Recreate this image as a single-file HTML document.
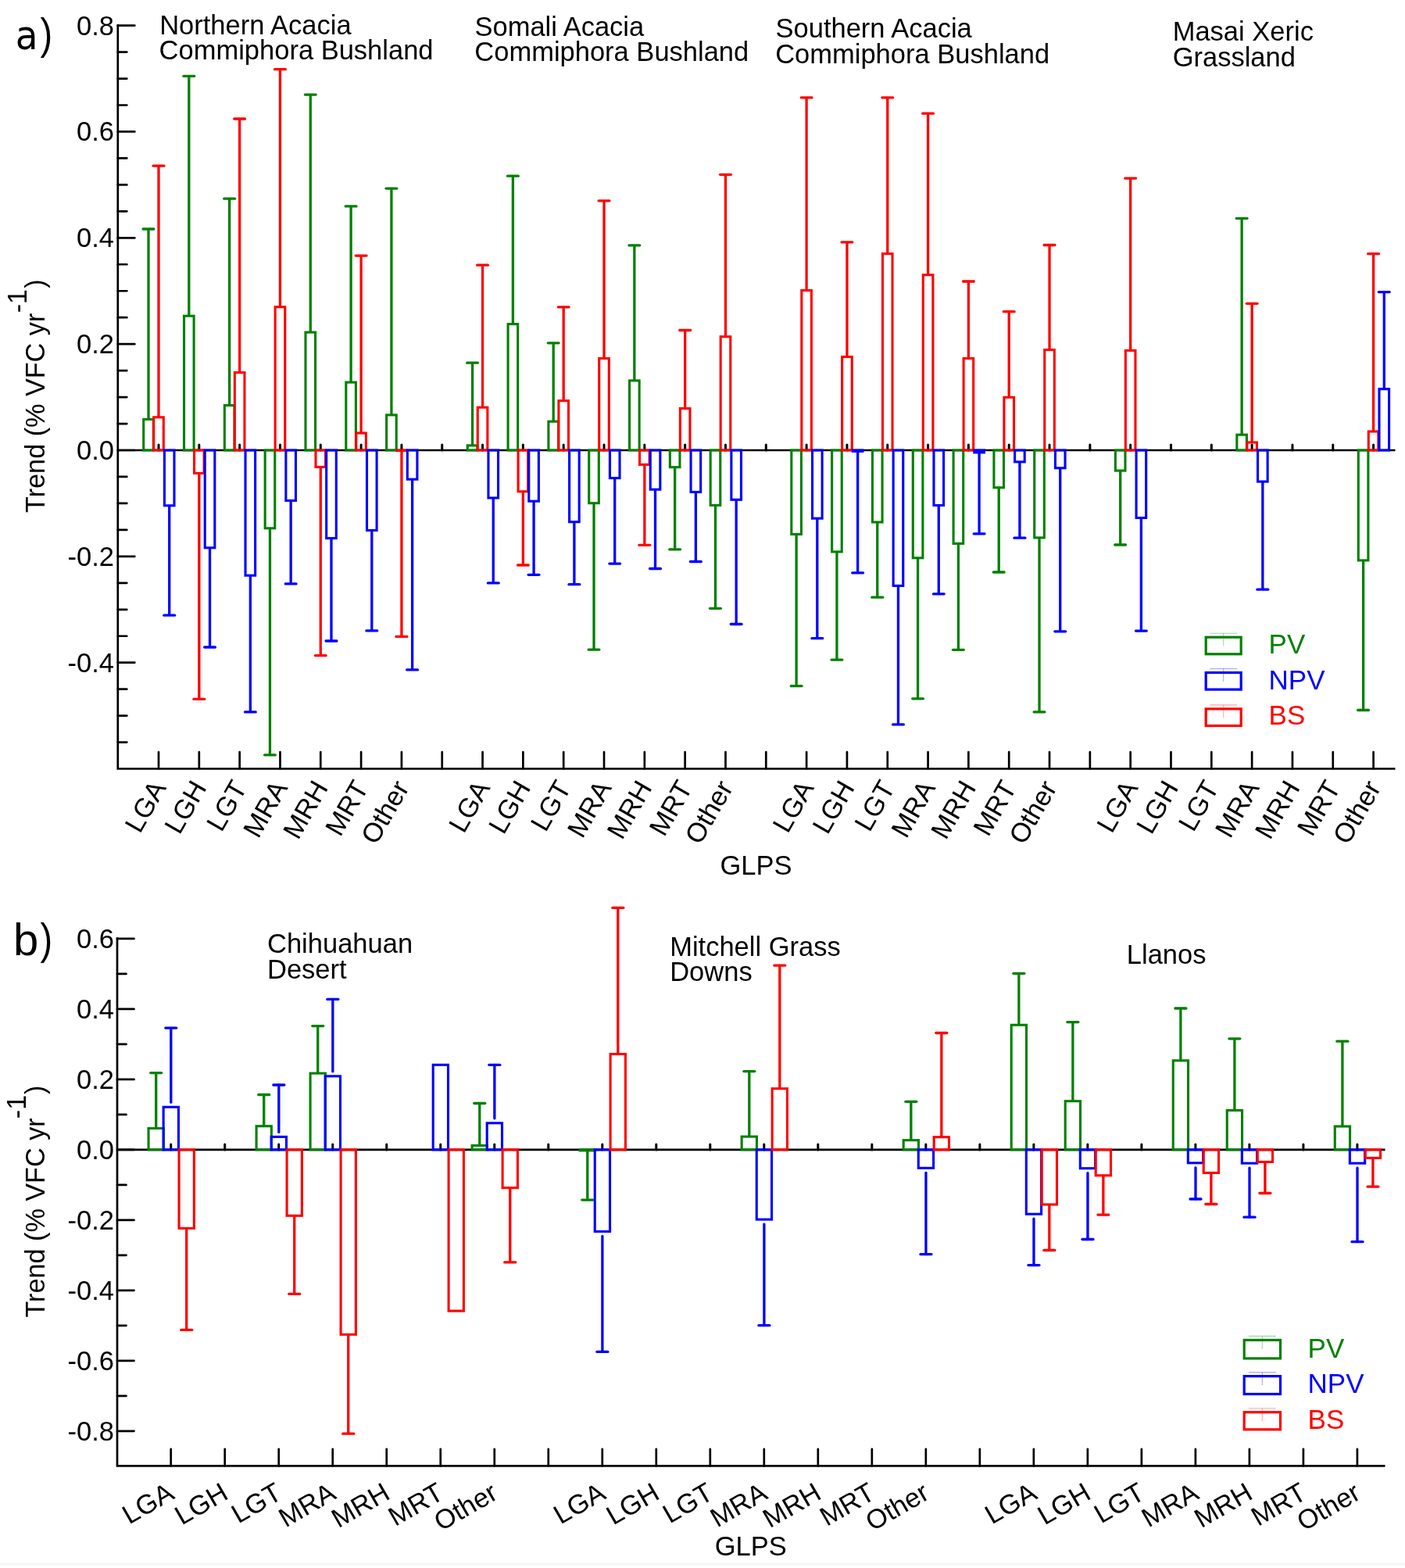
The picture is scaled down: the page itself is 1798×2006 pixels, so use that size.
<!DOCTYPE html><html><head><meta charset="utf-8"><title>Trend chart</title>
<style>html,body{margin:0;padding:0;background:#fff;overflow:hidden;}svg{display:block;}text{font-family:'Liberation Sans', Arial, sans-serif;}</style></head><body>
<svg width="1798" height="2006" viewBox="0 0 1798 2006">
<rect x="0" y="0" width="1798" height="2006" fill="#fff"/>
<path d="M150.8 31.3 V983.5 H1785.5" fill="none" stroke="#000" stroke-width="2.7"/>
<line x1="150.8" y1="32.6" x2="172.3" y2="32.6" stroke="#000" stroke-width="2.7" stroke-linecap="round"/>
<text x="146" y="44.5" font-size="34.5" text-anchor="end" fill="#000">0.8</text>
<line x1="150.8" y1="66.56" x2="162.3" y2="66.56" stroke="#000" stroke-width="2.7" stroke-linecap="round"/>
<line x1="150.8" y1="100.53" x2="162.3" y2="100.53" stroke="#000" stroke-width="2.7" stroke-linecap="round"/>
<line x1="150.8" y1="134.49" x2="162.3" y2="134.49" stroke="#000" stroke-width="2.7" stroke-linecap="round"/>
<line x1="150.8" y1="168.45" x2="172.3" y2="168.45" stroke="#000" stroke-width="2.7" stroke-linecap="round"/>
<text x="146" y="180.35" font-size="34.5" text-anchor="end" fill="#000">0.6</text>
<line x1="150.8" y1="202.41" x2="162.3" y2="202.41" stroke="#000" stroke-width="2.7" stroke-linecap="round"/>
<line x1="150.8" y1="236.38" x2="162.3" y2="236.38" stroke="#000" stroke-width="2.7" stroke-linecap="round"/>
<line x1="150.8" y1="270.34" x2="162.3" y2="270.34" stroke="#000" stroke-width="2.7" stroke-linecap="round"/>
<line x1="150.8" y1="304.3" x2="172.3" y2="304.3" stroke="#000" stroke-width="2.7" stroke-linecap="round"/>
<text x="146" y="316.2" font-size="34.5" text-anchor="end" fill="#000">0.4</text>
<line x1="150.8" y1="338.26" x2="162.3" y2="338.26" stroke="#000" stroke-width="2.7" stroke-linecap="round"/>
<line x1="150.8" y1="372.23" x2="162.3" y2="372.23" stroke="#000" stroke-width="2.7" stroke-linecap="round"/>
<line x1="150.8" y1="406.19" x2="162.3" y2="406.19" stroke="#000" stroke-width="2.7" stroke-linecap="round"/>
<line x1="150.8" y1="440.15" x2="172.3" y2="440.15" stroke="#000" stroke-width="2.7" stroke-linecap="round"/>
<text x="146" y="452.05" font-size="34.5" text-anchor="end" fill="#000">0.2</text>
<line x1="150.8" y1="474.11" x2="162.3" y2="474.11" stroke="#000" stroke-width="2.7" stroke-linecap="round"/>
<line x1="150.8" y1="508.08" x2="162.3" y2="508.08" stroke="#000" stroke-width="2.7" stroke-linecap="round"/>
<line x1="150.8" y1="542.04" x2="162.3" y2="542.04" stroke="#000" stroke-width="2.7" stroke-linecap="round"/>
<line x1="150.8" y1="576" x2="172.3" y2="576" stroke="#000" stroke-width="2.7" stroke-linecap="round"/>
<text x="146" y="587.9" font-size="34.5" text-anchor="end" fill="#000">0.0</text>
<line x1="150.8" y1="609.96" x2="162.3" y2="609.96" stroke="#000" stroke-width="2.7" stroke-linecap="round"/>
<line x1="150.8" y1="643.93" x2="162.3" y2="643.93" stroke="#000" stroke-width="2.7" stroke-linecap="round"/>
<line x1="150.8" y1="677.89" x2="162.3" y2="677.89" stroke="#000" stroke-width="2.7" stroke-linecap="round"/>
<line x1="150.8" y1="711.85" x2="172.3" y2="711.85" stroke="#000" stroke-width="2.7" stroke-linecap="round"/>
<text x="146" y="723.75" font-size="34.5" text-anchor="end" fill="#000">-0.2</text>
<line x1="150.8" y1="745.81" x2="162.3" y2="745.81" stroke="#000" stroke-width="2.7" stroke-linecap="round"/>
<line x1="150.8" y1="779.78" x2="162.3" y2="779.78" stroke="#000" stroke-width="2.7" stroke-linecap="round"/>
<line x1="150.8" y1="813.74" x2="162.3" y2="813.74" stroke="#000" stroke-width="2.7" stroke-linecap="round"/>
<line x1="150.8" y1="847.7" x2="172.3" y2="847.7" stroke="#000" stroke-width="2.7" stroke-linecap="round"/>
<text x="146" y="859.6" font-size="34.5" text-anchor="end" fill="#000">-0.4</text>
<line x1="150.8" y1="881.66" x2="162.3" y2="881.66" stroke="#000" stroke-width="2.7" stroke-linecap="round"/>
<line x1="150.8" y1="915.62" x2="162.3" y2="915.62" stroke="#000" stroke-width="2.7" stroke-linecap="round"/>
<line x1="150.8" y1="949.59" x2="162.3" y2="949.59" stroke="#000" stroke-width="2.7" stroke-linecap="round"/>
<line x1="203" y1="983.5" x2="203" y2="962" stroke="#000" stroke-width="2.7" stroke-linecap="round"/>
<line x1="254.82" y1="983.5" x2="254.82" y2="962" stroke="#000" stroke-width="2.7" stroke-linecap="round"/>
<line x1="306.64" y1="983.5" x2="306.64" y2="962" stroke="#000" stroke-width="2.7" stroke-linecap="round"/>
<line x1="358.46" y1="983.5" x2="358.46" y2="962" stroke="#000" stroke-width="2.7" stroke-linecap="round"/>
<line x1="410.28" y1="983.5" x2="410.28" y2="962" stroke="#000" stroke-width="2.7" stroke-linecap="round"/>
<line x1="462.1" y1="983.5" x2="462.1" y2="962" stroke="#000" stroke-width="2.7" stroke-linecap="round"/>
<line x1="513.92" y1="983.5" x2="513.92" y2="962" stroke="#000" stroke-width="2.7" stroke-linecap="round"/>
<line x1="565.74" y1="983.5" x2="565.74" y2="962" stroke="#000" stroke-width="2.7" stroke-linecap="round"/>
<line x1="617.56" y1="983.5" x2="617.56" y2="962" stroke="#000" stroke-width="2.7" stroke-linecap="round"/>
<line x1="669.38" y1="983.5" x2="669.38" y2="962" stroke="#000" stroke-width="2.7" stroke-linecap="round"/>
<line x1="721.2" y1="983.5" x2="721.2" y2="962" stroke="#000" stroke-width="2.7" stroke-linecap="round"/>
<line x1="773.02" y1="983.5" x2="773.02" y2="962" stroke="#000" stroke-width="2.7" stroke-linecap="round"/>
<line x1="824.84" y1="983.5" x2="824.84" y2="962" stroke="#000" stroke-width="2.7" stroke-linecap="round"/>
<line x1="876.66" y1="983.5" x2="876.66" y2="962" stroke="#000" stroke-width="2.7" stroke-linecap="round"/>
<line x1="928.48" y1="983.5" x2="928.48" y2="962" stroke="#000" stroke-width="2.7" stroke-linecap="round"/>
<line x1="980.3" y1="983.5" x2="980.3" y2="962" stroke="#000" stroke-width="2.7" stroke-linecap="round"/>
<line x1="1032.12" y1="983.5" x2="1032.12" y2="962" stroke="#000" stroke-width="2.7" stroke-linecap="round"/>
<line x1="1083.94" y1="983.5" x2="1083.94" y2="962" stroke="#000" stroke-width="2.7" stroke-linecap="round"/>
<line x1="1135.76" y1="983.5" x2="1135.76" y2="962" stroke="#000" stroke-width="2.7" stroke-linecap="round"/>
<line x1="1187.58" y1="983.5" x2="1187.58" y2="962" stroke="#000" stroke-width="2.7" stroke-linecap="round"/>
<line x1="1239.4" y1="983.5" x2="1239.4" y2="962" stroke="#000" stroke-width="2.7" stroke-linecap="round"/>
<line x1="1291.22" y1="983.5" x2="1291.22" y2="962" stroke="#000" stroke-width="2.7" stroke-linecap="round"/>
<line x1="1343.04" y1="983.5" x2="1343.04" y2="962" stroke="#000" stroke-width="2.7" stroke-linecap="round"/>
<line x1="1394.86" y1="983.5" x2="1394.86" y2="962" stroke="#000" stroke-width="2.7" stroke-linecap="round"/>
<line x1="1446.68" y1="983.5" x2="1446.68" y2="962" stroke="#000" stroke-width="2.7" stroke-linecap="round"/>
<line x1="1498.5" y1="983.5" x2="1498.5" y2="962" stroke="#000" stroke-width="2.7" stroke-linecap="round"/>
<line x1="1550.32" y1="983.5" x2="1550.32" y2="962" stroke="#000" stroke-width="2.7" stroke-linecap="round"/>
<line x1="1602.14" y1="983.5" x2="1602.14" y2="962" stroke="#000" stroke-width="2.7" stroke-linecap="round"/>
<line x1="1653.96" y1="983.5" x2="1653.96" y2="962" stroke="#000" stroke-width="2.7" stroke-linecap="round"/>
<line x1="1705.78" y1="983.5" x2="1705.78" y2="962" stroke="#000" stroke-width="2.7" stroke-linecap="round"/>
<line x1="1757.6" y1="983.5" x2="1757.6" y2="962" stroke="#000" stroke-width="2.7" stroke-linecap="round"/>
<line x1="150.8" y1="576" x2="1785.5" y2="576" stroke="#000" stroke-width="2.7"/>
<line x1="203" y1="576" x2="203" y2="569" stroke="#000" stroke-width="3" stroke-linecap="round"/>
<line x1="254.82" y1="576" x2="254.82" y2="569" stroke="#000" stroke-width="3" stroke-linecap="round"/>
<line x1="306.64" y1="576" x2="306.64" y2="569" stroke="#000" stroke-width="3" stroke-linecap="round"/>
<line x1="358.46" y1="576" x2="358.46" y2="569" stroke="#000" stroke-width="3" stroke-linecap="round"/>
<line x1="410.28" y1="576" x2="410.28" y2="569" stroke="#000" stroke-width="3" stroke-linecap="round"/>
<line x1="462.1" y1="576" x2="462.1" y2="569" stroke="#000" stroke-width="3" stroke-linecap="round"/>
<line x1="513.92" y1="576" x2="513.92" y2="569" stroke="#000" stroke-width="3" stroke-linecap="round"/>
<line x1="565.74" y1="576" x2="565.74" y2="569" stroke="#000" stroke-width="3" stroke-linecap="round"/>
<line x1="617.56" y1="576" x2="617.56" y2="569" stroke="#000" stroke-width="3" stroke-linecap="round"/>
<line x1="669.38" y1="576" x2="669.38" y2="569" stroke="#000" stroke-width="3" stroke-linecap="round"/>
<line x1="721.2" y1="576" x2="721.2" y2="569" stroke="#000" stroke-width="3" stroke-linecap="round"/>
<line x1="773.02" y1="576" x2="773.02" y2="569" stroke="#000" stroke-width="3" stroke-linecap="round"/>
<line x1="824.84" y1="576" x2="824.84" y2="569" stroke="#000" stroke-width="3" stroke-linecap="round"/>
<line x1="876.66" y1="576" x2="876.66" y2="569" stroke="#000" stroke-width="3" stroke-linecap="round"/>
<line x1="928.48" y1="576" x2="928.48" y2="569" stroke="#000" stroke-width="3" stroke-linecap="round"/>
<line x1="980.3" y1="576" x2="980.3" y2="569" stroke="#000" stroke-width="3" stroke-linecap="round"/>
<line x1="1032.12" y1="576" x2="1032.12" y2="569" stroke="#000" stroke-width="3" stroke-linecap="round"/>
<line x1="1083.94" y1="576" x2="1083.94" y2="569" stroke="#000" stroke-width="3" stroke-linecap="round"/>
<line x1="1135.76" y1="576" x2="1135.76" y2="569" stroke="#000" stroke-width="3" stroke-linecap="round"/>
<line x1="1187.58" y1="576" x2="1187.58" y2="569" stroke="#000" stroke-width="3" stroke-linecap="round"/>
<line x1="1239.4" y1="576" x2="1239.4" y2="569" stroke="#000" stroke-width="3" stroke-linecap="round"/>
<line x1="1291.22" y1="576" x2="1291.22" y2="569" stroke="#000" stroke-width="3" stroke-linecap="round"/>
<line x1="1343.04" y1="576" x2="1343.04" y2="569" stroke="#000" stroke-width="3" stroke-linecap="round"/>
<line x1="1394.86" y1="576" x2="1394.86" y2="569" stroke="#000" stroke-width="3" stroke-linecap="round"/>
<line x1="1446.68" y1="576" x2="1446.68" y2="569" stroke="#000" stroke-width="3" stroke-linecap="round"/>
<line x1="1498.5" y1="576" x2="1498.5" y2="569" stroke="#000" stroke-width="3" stroke-linecap="round"/>
<line x1="1550.32" y1="576" x2="1550.32" y2="569" stroke="#000" stroke-width="3" stroke-linecap="round"/>
<line x1="1602.14" y1="576" x2="1602.14" y2="569" stroke="#000" stroke-width="3" stroke-linecap="round"/>
<line x1="1653.96" y1="576" x2="1653.96" y2="569" stroke="#000" stroke-width="3" stroke-linecap="round"/>
<line x1="1705.78" y1="576" x2="1705.78" y2="569" stroke="#000" stroke-width="3" stroke-linecap="round"/>
<line x1="1757.6" y1="576" x2="1757.6" y2="569" stroke="#000" stroke-width="3" stroke-linecap="round"/>
<rect x="183.7" y="536.4" width="12.6" height="39.6" fill="none" stroke="#008000" stroke-width="3.1"/>
<line x1="190" y1="536.4" x2="190" y2="293" stroke="#008000" stroke-width="3.3"/>
<line x1="183.1" y1="293" x2="196.9" y2="293" stroke="#008000" stroke-width="3.3" stroke-linecap="round"/>
<rect x="196.7" y="533.8" width="12.6" height="42.2" fill="none" stroke="#ff0000" stroke-width="3.1"/>
<line x1="203" y1="533.8" x2="203" y2="212.2" stroke="#ff0000" stroke-width="3.3"/>
<line x1="196.1" y1="212.2" x2="209.9" y2="212.2" stroke="#ff0000" stroke-width="3.3" stroke-linecap="round"/>
<rect x="210.4" y="576" width="12.6" height="70.8" fill="none" stroke="#0000ff" stroke-width="3.1"/>
<line x1="216.7" y1="646.8" x2="216.7" y2="787.2" stroke="#0000ff" stroke-width="3.3"/>
<line x1="209.8" y1="787.2" x2="223.6" y2="787.2" stroke="#0000ff" stroke-width="3.3" stroke-linecap="round"/>
<rect x="235.52" y="404.2" width="12.6" height="171.8" fill="none" stroke="#008000" stroke-width="3.1"/>
<line x1="241.82" y1="404.2" x2="241.82" y2="97.3" stroke="#008000" stroke-width="3.3"/>
<line x1="234.92" y1="97.3" x2="248.72" y2="97.3" stroke="#008000" stroke-width="3.3" stroke-linecap="round"/>
<rect x="248.52" y="576" width="12.6" height="29.4" fill="none" stroke="#ff0000" stroke-width="3.1"/>
<line x1="254.82" y1="605.4" x2="254.82" y2="894.4" stroke="#ff0000" stroke-width="3.3"/>
<line x1="247.92" y1="894.4" x2="261.72" y2="894.4" stroke="#ff0000" stroke-width="3.3" stroke-linecap="round"/>
<rect x="262.22" y="576" width="12.6" height="124.8" fill="none" stroke="#0000ff" stroke-width="3.1"/>
<line x1="268.52" y1="700.8" x2="268.52" y2="828" stroke="#0000ff" stroke-width="3.3"/>
<line x1="261.62" y1="828" x2="275.42" y2="828" stroke="#0000ff" stroke-width="3.3" stroke-linecap="round"/>
<rect x="287.34" y="518.6" width="12.6" height="57.4" fill="none" stroke="#008000" stroke-width="3.1"/>
<line x1="293.64" y1="518.6" x2="293.64" y2="254.2" stroke="#008000" stroke-width="3.3"/>
<line x1="286.74" y1="254.2" x2="300.54" y2="254.2" stroke="#008000" stroke-width="3.3" stroke-linecap="round"/>
<rect x="300.34" y="476.6" width="12.6" height="99.4" fill="none" stroke="#ff0000" stroke-width="3.1"/>
<line x1="306.64" y1="476.6" x2="306.64" y2="152" stroke="#ff0000" stroke-width="3.3"/>
<line x1="299.74" y1="152" x2="313.54" y2="152" stroke="#ff0000" stroke-width="3.3" stroke-linecap="round"/>
<rect x="314.04" y="576" width="12.6" height="160.2" fill="none" stroke="#0000ff" stroke-width="3.1"/>
<line x1="320.34" y1="736.2" x2="320.34" y2="910.9" stroke="#0000ff" stroke-width="3.3"/>
<line x1="313.44" y1="910.9" x2="327.24" y2="910.9" stroke="#0000ff" stroke-width="3.3" stroke-linecap="round"/>
<rect x="339.16" y="576" width="12.6" height="99.8" fill="none" stroke="#008000" stroke-width="3.1"/>
<line x1="345.46" y1="675.8" x2="345.46" y2="965.8" stroke="#008000" stroke-width="3.3"/>
<line x1="338.56" y1="965.8" x2="352.36" y2="965.8" stroke="#008000" stroke-width="3.3" stroke-linecap="round"/>
<rect x="352.16" y="392.7" width="12.6" height="183.3" fill="none" stroke="#ff0000" stroke-width="3.1"/>
<line x1="358.46" y1="392.7" x2="358.46" y2="88.7" stroke="#ff0000" stroke-width="3.3"/>
<line x1="351.56" y1="88.7" x2="365.36" y2="88.7" stroke="#ff0000" stroke-width="3.3" stroke-linecap="round"/>
<rect x="365.86" y="576" width="12.6" height="64.4" fill="none" stroke="#0000ff" stroke-width="3.1"/>
<line x1="372.16" y1="640.4" x2="372.16" y2="746.9" stroke="#0000ff" stroke-width="3.3"/>
<line x1="365.26" y1="746.9" x2="379.06" y2="746.9" stroke="#0000ff" stroke-width="3.3" stroke-linecap="round"/>
<rect x="390.98" y="425.1" width="12.6" height="150.9" fill="none" stroke="#008000" stroke-width="3.1"/>
<line x1="397.28" y1="425.1" x2="397.28" y2="121.1" stroke="#008000" stroke-width="3.3"/>
<line x1="390.38" y1="121.1" x2="404.18" y2="121.1" stroke="#008000" stroke-width="3.3" stroke-linecap="round"/>
<rect x="403.98" y="576" width="12.6" height="21.5" fill="none" stroke="#ff0000" stroke-width="3.1"/>
<line x1="410.28" y1="597.5" x2="410.28" y2="838.7" stroke="#ff0000" stroke-width="3.3"/>
<line x1="403.38" y1="838.7" x2="417.18" y2="838.7" stroke="#ff0000" stroke-width="3.3" stroke-linecap="round"/>
<rect x="417.68" y="576" width="12.6" height="112.6" fill="none" stroke="#0000ff" stroke-width="3.1"/>
<line x1="423.98" y1="688.6" x2="423.98" y2="820" stroke="#0000ff" stroke-width="3.3"/>
<line x1="417.08" y1="820" x2="430.88" y2="820" stroke="#0000ff" stroke-width="3.3" stroke-linecap="round"/>
<rect x="442.8" y="489.1" width="12.6" height="86.9" fill="none" stroke="#008000" stroke-width="3.1"/>
<line x1="449.1" y1="489.1" x2="449.1" y2="263.9" stroke="#008000" stroke-width="3.3"/>
<line x1="442.2" y1="263.9" x2="456" y2="263.9" stroke="#008000" stroke-width="3.3" stroke-linecap="round"/>
<rect x="455.8" y="554" width="12.6" height="22" fill="none" stroke="#ff0000" stroke-width="3.1"/>
<line x1="462.1" y1="554" x2="462.1" y2="327.1" stroke="#ff0000" stroke-width="3.3"/>
<line x1="455.2" y1="327.1" x2="469" y2="327.1" stroke="#ff0000" stroke-width="3.3" stroke-linecap="round"/>
<rect x="469.5" y="576" width="12.6" height="102.5" fill="none" stroke="#0000ff" stroke-width="3.1"/>
<line x1="475.8" y1="678.5" x2="475.8" y2="806.9" stroke="#0000ff" stroke-width="3.3"/>
<line x1="468.9" y1="806.9" x2="482.7" y2="806.9" stroke="#0000ff" stroke-width="3.3" stroke-linecap="round"/>
<rect x="494.62" y="530.9" width="12.6" height="45.1" fill="none" stroke="#008000" stroke-width="3.1"/>
<line x1="500.92" y1="530.9" x2="500.92" y2="241.1" stroke="#008000" stroke-width="3.3"/>
<line x1="494.02" y1="241.1" x2="507.82" y2="241.1" stroke="#008000" stroke-width="3.3" stroke-linecap="round"/>
<rect x="507.62" y="576" width="12.6" height="0.6" fill="none" stroke="#ff0000" stroke-width="3.1"/>
<line x1="513.92" y1="576.6" x2="513.92" y2="814.4" stroke="#ff0000" stroke-width="3.3"/>
<line x1="507.02" y1="814.4" x2="520.82" y2="814.4" stroke="#ff0000" stroke-width="3.3" stroke-linecap="round"/>
<rect x="521.32" y="576" width="12.6" height="37.2" fill="none" stroke="#0000ff" stroke-width="3.1"/>
<line x1="527.62" y1="613.2" x2="527.62" y2="856.9" stroke="#0000ff" stroke-width="3.3"/>
<line x1="520.72" y1="856.9" x2="534.52" y2="856.9" stroke="#0000ff" stroke-width="3.3" stroke-linecap="round"/>
<rect x="598.26" y="569.9" width="12.6" height="6.1" fill="none" stroke="#008000" stroke-width="3.1"/>
<line x1="604.56" y1="569.9" x2="604.56" y2="464.2" stroke="#008000" stroke-width="3.3"/>
<line x1="597.66" y1="464.2" x2="611.46" y2="464.2" stroke="#008000" stroke-width="3.3" stroke-linecap="round"/>
<rect x="611.26" y="521.2" width="12.6" height="54.8" fill="none" stroke="#ff0000" stroke-width="3.1"/>
<line x1="617.56" y1="521.2" x2="617.56" y2="339.2" stroke="#ff0000" stroke-width="3.3"/>
<line x1="610.66" y1="339.2" x2="624.46" y2="339.2" stroke="#ff0000" stroke-width="3.3" stroke-linecap="round"/>
<rect x="624.96" y="576" width="12.6" height="61" fill="none" stroke="#0000ff" stroke-width="3.1"/>
<line x1="631.26" y1="637" x2="631.26" y2="745.9" stroke="#0000ff" stroke-width="3.3"/>
<line x1="624.36" y1="745.9" x2="638.16" y2="745.9" stroke="#0000ff" stroke-width="3.3" stroke-linecap="round"/>
<rect x="650.08" y="414.6" width="12.6" height="161.4" fill="none" stroke="#008000" stroke-width="3.1"/>
<line x1="656.38" y1="414.6" x2="656.38" y2="225.2" stroke="#008000" stroke-width="3.3"/>
<line x1="649.48" y1="225.2" x2="663.28" y2="225.2" stroke="#008000" stroke-width="3.3" stroke-linecap="round"/>
<rect x="663.08" y="576" width="12.6" height="52.8" fill="none" stroke="#ff0000" stroke-width="3.1"/>
<line x1="669.38" y1="628.8" x2="669.38" y2="723" stroke="#ff0000" stroke-width="3.3"/>
<line x1="662.48" y1="723" x2="676.28" y2="723" stroke="#ff0000" stroke-width="3.3" stroke-linecap="round"/>
<rect x="676.78" y="576" width="12.6" height="65.2" fill="none" stroke="#0000ff" stroke-width="3.1"/>
<line x1="683.08" y1="641.2" x2="683.08" y2="735.3" stroke="#0000ff" stroke-width="3.3"/>
<line x1="676.18" y1="735.3" x2="689.98" y2="735.3" stroke="#0000ff" stroke-width="3.3" stroke-linecap="round"/>
<rect x="701.9" y="539.2" width="12.6" height="36.8" fill="none" stroke="#008000" stroke-width="3.1"/>
<line x1="708.2" y1="539.2" x2="708.2" y2="438.8" stroke="#008000" stroke-width="3.3"/>
<line x1="701.3" y1="438.8" x2="715.1" y2="438.8" stroke="#008000" stroke-width="3.3" stroke-linecap="round"/>
<rect x="714.9" y="512.7" width="12.6" height="63.3" fill="none" stroke="#ff0000" stroke-width="3.1"/>
<line x1="721.2" y1="512.7" x2="721.2" y2="392.8" stroke="#ff0000" stroke-width="3.3"/>
<line x1="714.3" y1="392.8" x2="728.1" y2="392.8" stroke="#ff0000" stroke-width="3.3" stroke-linecap="round"/>
<rect x="728.6" y="576" width="12.6" height="91.7" fill="none" stroke="#0000ff" stroke-width="3.1"/>
<line x1="734.9" y1="667.7" x2="734.9" y2="747.7" stroke="#0000ff" stroke-width="3.3"/>
<line x1="728" y1="747.7" x2="741.8" y2="747.7" stroke="#0000ff" stroke-width="3.3" stroke-linecap="round"/>
<rect x="753.72" y="576" width="12.6" height="67.7" fill="none" stroke="#008000" stroke-width="3.1"/>
<line x1="760.02" y1="643.7" x2="760.02" y2="831.1" stroke="#008000" stroke-width="3.3"/>
<line x1="753.12" y1="831.1" x2="766.92" y2="831.1" stroke="#008000" stroke-width="3.3" stroke-linecap="round"/>
<rect x="766.72" y="458.5" width="12.6" height="117.5" fill="none" stroke="#ff0000" stroke-width="3.1"/>
<line x1="773.02" y1="458.5" x2="773.02" y2="256.8" stroke="#ff0000" stroke-width="3.3"/>
<line x1="766.12" y1="256.8" x2="779.92" y2="256.8" stroke="#ff0000" stroke-width="3.3" stroke-linecap="round"/>
<rect x="780.42" y="576" width="12.6" height="35.6" fill="none" stroke="#0000ff" stroke-width="3.1"/>
<line x1="786.72" y1="611.6" x2="786.72" y2="721.1" stroke="#0000ff" stroke-width="3.3"/>
<line x1="779.82" y1="721.1" x2="793.62" y2="721.1" stroke="#0000ff" stroke-width="3.3" stroke-linecap="round"/>
<rect x="805.54" y="486.9" width="12.6" height="89.1" fill="none" stroke="#008000" stroke-width="3.1"/>
<line x1="811.84" y1="486.9" x2="811.84" y2="313.8" stroke="#008000" stroke-width="3.3"/>
<line x1="804.94" y1="313.8" x2="818.74" y2="313.8" stroke="#008000" stroke-width="3.3" stroke-linecap="round"/>
<rect x="818.54" y="576" width="12.6" height="18.4" fill="none" stroke="#ff0000" stroke-width="3.1"/>
<line x1="824.84" y1="594.4" x2="824.84" y2="697.3" stroke="#ff0000" stroke-width="3.3"/>
<line x1="817.94" y1="697.3" x2="831.74" y2="697.3" stroke="#ff0000" stroke-width="3.3" stroke-linecap="round"/>
<rect x="832.24" y="576" width="12.6" height="50.2" fill="none" stroke="#0000ff" stroke-width="3.1"/>
<line x1="838.54" y1="626.2" x2="838.54" y2="727.5" stroke="#0000ff" stroke-width="3.3"/>
<line x1="831.64" y1="727.5" x2="845.44" y2="727.5" stroke="#0000ff" stroke-width="3.3" stroke-linecap="round"/>
<rect x="857.36" y="576" width="12.6" height="21.7" fill="none" stroke="#008000" stroke-width="3.1"/>
<line x1="863.66" y1="597.7" x2="863.66" y2="702.8" stroke="#008000" stroke-width="3.3"/>
<line x1="856.76" y1="702.8" x2="870.56" y2="702.8" stroke="#008000" stroke-width="3.3" stroke-linecap="round"/>
<rect x="870.36" y="522.6" width="12.6" height="53.4" fill="none" stroke="#ff0000" stroke-width="3.1"/>
<line x1="876.66" y1="522.6" x2="876.66" y2="422.5" stroke="#ff0000" stroke-width="3.3"/>
<line x1="869.76" y1="422.5" x2="883.56" y2="422.5" stroke="#ff0000" stroke-width="3.3" stroke-linecap="round"/>
<rect x="884.06" y="576" width="12.6" height="53.5" fill="none" stroke="#0000ff" stroke-width="3.1"/>
<line x1="890.36" y1="629.5" x2="890.36" y2="718.5" stroke="#0000ff" stroke-width="3.3"/>
<line x1="883.46" y1="718.5" x2="897.26" y2="718.5" stroke="#0000ff" stroke-width="3.3" stroke-linecap="round"/>
<rect x="909.18" y="576" width="12.6" height="70.4" fill="none" stroke="#008000" stroke-width="3.1"/>
<line x1="915.48" y1="646.4" x2="915.48" y2="778.3" stroke="#008000" stroke-width="3.3"/>
<line x1="908.58" y1="778.3" x2="922.38" y2="778.3" stroke="#008000" stroke-width="3.3" stroke-linecap="round"/>
<rect x="922.18" y="430.7" width="12.6" height="145.3" fill="none" stroke="#ff0000" stroke-width="3.1"/>
<line x1="928.48" y1="430.7" x2="928.48" y2="223.3" stroke="#ff0000" stroke-width="3.3"/>
<line x1="921.58" y1="223.3" x2="935.38" y2="223.3" stroke="#ff0000" stroke-width="3.3" stroke-linecap="round"/>
<rect x="935.88" y="576" width="12.6" height="63.3" fill="none" stroke="#0000ff" stroke-width="3.1"/>
<line x1="942.18" y1="639.3" x2="942.18" y2="798.5" stroke="#0000ff" stroke-width="3.3"/>
<line x1="935.28" y1="798.5" x2="949.08" y2="798.5" stroke="#0000ff" stroke-width="3.3" stroke-linecap="round"/>
<rect x="1012.82" y="576" width="12.6" height="107.5" fill="none" stroke="#008000" stroke-width="3.1"/>
<line x1="1019.12" y1="683.5" x2="1019.12" y2="877.7" stroke="#008000" stroke-width="3.3"/>
<line x1="1012.22" y1="877.7" x2="1026.02" y2="877.7" stroke="#008000" stroke-width="3.3" stroke-linecap="round"/>
<rect x="1025.82" y="371.5" width="12.6" height="204.5" fill="none" stroke="#ff0000" stroke-width="3.1"/>
<line x1="1032.12" y1="371.5" x2="1032.12" y2="124.8" stroke="#ff0000" stroke-width="3.3"/>
<line x1="1025.22" y1="124.8" x2="1039.02" y2="124.8" stroke="#ff0000" stroke-width="3.3" stroke-linecap="round"/>
<rect x="1039.52" y="576" width="12.6" height="87.2" fill="none" stroke="#0000ff" stroke-width="3.1"/>
<line x1="1045.82" y1="663.2" x2="1045.82" y2="816.7" stroke="#0000ff" stroke-width="3.3"/>
<line x1="1038.92" y1="816.7" x2="1052.72" y2="816.7" stroke="#0000ff" stroke-width="3.3" stroke-linecap="round"/>
<rect x="1064.64" y="576" width="12.6" height="129.9" fill="none" stroke="#008000" stroke-width="3.1"/>
<line x1="1070.94" y1="705.9" x2="1070.94" y2="844.1" stroke="#008000" stroke-width="3.3"/>
<line x1="1064.04" y1="844.1" x2="1077.84" y2="844.1" stroke="#008000" stroke-width="3.3" stroke-linecap="round"/>
<rect x="1077.64" y="456.5" width="12.6" height="119.5" fill="none" stroke="#ff0000" stroke-width="3.1"/>
<line x1="1083.94" y1="456.5" x2="1083.94" y2="309.8" stroke="#ff0000" stroke-width="3.3"/>
<line x1="1077.04" y1="309.8" x2="1090.84" y2="309.8" stroke="#ff0000" stroke-width="3.3" stroke-linecap="round"/>
<rect x="1091.34" y="576" width="12.6" height="1.4" fill="none" stroke="#0000ff" stroke-width="3.1"/>
<line x1="1097.64" y1="577.4" x2="1097.64" y2="732.9" stroke="#0000ff" stroke-width="3.3"/>
<line x1="1090.74" y1="732.9" x2="1104.54" y2="732.9" stroke="#0000ff" stroke-width="3.3" stroke-linecap="round"/>
<rect x="1116.46" y="576" width="12.6" height="92" fill="none" stroke="#008000" stroke-width="3.1"/>
<line x1="1122.76" y1="668" x2="1122.76" y2="764.2" stroke="#008000" stroke-width="3.3"/>
<line x1="1115.86" y1="764.2" x2="1129.66" y2="764.2" stroke="#008000" stroke-width="3.3" stroke-linecap="round"/>
<rect x="1129.46" y="324.6" width="12.6" height="251.4" fill="none" stroke="#ff0000" stroke-width="3.1"/>
<line x1="1135.76" y1="324.6" x2="1135.76" y2="124.8" stroke="#ff0000" stroke-width="3.3"/>
<line x1="1128.86" y1="124.8" x2="1142.66" y2="124.8" stroke="#ff0000" stroke-width="3.3" stroke-linecap="round"/>
<rect x="1143.16" y="576" width="12.6" height="173.4" fill="none" stroke="#0000ff" stroke-width="3.1"/>
<line x1="1149.46" y1="749.4" x2="1149.46" y2="926.9" stroke="#0000ff" stroke-width="3.3"/>
<line x1="1142.56" y1="926.9" x2="1156.36" y2="926.9" stroke="#0000ff" stroke-width="3.3" stroke-linecap="round"/>
<rect x="1168.28" y="576" width="12.6" height="137.8" fill="none" stroke="#008000" stroke-width="3.1"/>
<line x1="1174.58" y1="713.8" x2="1174.58" y2="893.8" stroke="#008000" stroke-width="3.3"/>
<line x1="1167.68" y1="893.8" x2="1181.48" y2="893.8" stroke="#008000" stroke-width="3.3" stroke-linecap="round"/>
<rect x="1181.28" y="351.7" width="12.6" height="224.3" fill="none" stroke="#ff0000" stroke-width="3.1"/>
<line x1="1187.58" y1="351.7" x2="1187.58" y2="145.2" stroke="#ff0000" stroke-width="3.3"/>
<line x1="1180.68" y1="145.2" x2="1194.48" y2="145.2" stroke="#ff0000" stroke-width="3.3" stroke-linecap="round"/>
<rect x="1194.98" y="576" width="12.6" height="70.5" fill="none" stroke="#0000ff" stroke-width="3.1"/>
<line x1="1201.28" y1="646.5" x2="1201.28" y2="759.8" stroke="#0000ff" stroke-width="3.3"/>
<line x1="1194.38" y1="759.8" x2="1208.18" y2="759.8" stroke="#0000ff" stroke-width="3.3" stroke-linecap="round"/>
<rect x="1220.1" y="576" width="12.6" height="119.4" fill="none" stroke="#008000" stroke-width="3.1"/>
<line x1="1226.4" y1="695.4" x2="1226.4" y2="831.3" stroke="#008000" stroke-width="3.3"/>
<line x1="1219.5" y1="831.3" x2="1233.3" y2="831.3" stroke="#008000" stroke-width="3.3" stroke-linecap="round"/>
<rect x="1233.1" y="458.5" width="12.6" height="117.5" fill="none" stroke="#ff0000" stroke-width="3.1"/>
<line x1="1239.4" y1="458.5" x2="1239.4" y2="360" stroke="#ff0000" stroke-width="3.3"/>
<line x1="1232.5" y1="360" x2="1246.3" y2="360" stroke="#ff0000" stroke-width="3.3" stroke-linecap="round"/>
<rect x="1246.8" y="576" width="12.6" height="2.9" fill="none" stroke="#0000ff" stroke-width="3.1"/>
<line x1="1253.1" y1="578.9" x2="1253.1" y2="682.8" stroke="#0000ff" stroke-width="3.3"/>
<line x1="1246.2" y1="682.8" x2="1260" y2="682.8" stroke="#0000ff" stroke-width="3.3" stroke-linecap="round"/>
<rect x="1271.92" y="576" width="12.6" height="47.8" fill="none" stroke="#008000" stroke-width="3.1"/>
<line x1="1278.22" y1="623.8" x2="1278.22" y2="732" stroke="#008000" stroke-width="3.3"/>
<line x1="1271.32" y1="732" x2="1285.12" y2="732" stroke="#008000" stroke-width="3.3" stroke-linecap="round"/>
<rect x="1284.92" y="508.3" width="12.6" height="67.7" fill="none" stroke="#ff0000" stroke-width="3.1"/>
<line x1="1291.22" y1="508.3" x2="1291.22" y2="398.7" stroke="#ff0000" stroke-width="3.3"/>
<line x1="1284.32" y1="398.7" x2="1298.12" y2="398.7" stroke="#ff0000" stroke-width="3.3" stroke-linecap="round"/>
<rect x="1298.62" y="576" width="12.6" height="14.9" fill="none" stroke="#0000ff" stroke-width="3.1"/>
<line x1="1304.92" y1="590.9" x2="1304.92" y2="688.2" stroke="#0000ff" stroke-width="3.3"/>
<line x1="1298.02" y1="688.2" x2="1311.82" y2="688.2" stroke="#0000ff" stroke-width="3.3" stroke-linecap="round"/>
<rect x="1323.74" y="576" width="12.6" height="111.9" fill="none" stroke="#008000" stroke-width="3.1"/>
<line x1="1330.04" y1="687.9" x2="1330.04" y2="910.8" stroke="#008000" stroke-width="3.3"/>
<line x1="1323.14" y1="910.8" x2="1336.94" y2="910.8" stroke="#008000" stroke-width="3.3" stroke-linecap="round"/>
<rect x="1336.74" y="447.5" width="12.6" height="128.5" fill="none" stroke="#ff0000" stroke-width="3.1"/>
<line x1="1343.04" y1="447.5" x2="1343.04" y2="313.5" stroke="#ff0000" stroke-width="3.3"/>
<line x1="1336.14" y1="313.5" x2="1349.94" y2="313.5" stroke="#ff0000" stroke-width="3.3" stroke-linecap="round"/>
<rect x="1350.44" y="576" width="12.6" height="22.8" fill="none" stroke="#0000ff" stroke-width="3.1"/>
<line x1="1356.74" y1="598.8" x2="1356.74" y2="807.8" stroke="#0000ff" stroke-width="3.3"/>
<line x1="1349.84" y1="807.8" x2="1363.64" y2="807.8" stroke="#0000ff" stroke-width="3.3" stroke-linecap="round"/>
<rect x="1427.38" y="576" width="12.6" height="26.1" fill="none" stroke="#008000" stroke-width="3.1"/>
<line x1="1433.68" y1="602.1" x2="1433.68" y2="697" stroke="#008000" stroke-width="3.3"/>
<line x1="1426.78" y1="697" x2="1440.58" y2="697" stroke="#008000" stroke-width="3.3" stroke-linecap="round"/>
<rect x="1440.38" y="448.4" width="12.6" height="127.6" fill="none" stroke="#ff0000" stroke-width="3.1"/>
<line x1="1446.68" y1="448.4" x2="1446.68" y2="228.1" stroke="#ff0000" stroke-width="3.3"/>
<line x1="1439.78" y1="228.1" x2="1453.58" y2="228.1" stroke="#ff0000" stroke-width="3.3" stroke-linecap="round"/>
<rect x="1454.08" y="576" width="12.6" height="86.5" fill="none" stroke="#0000ff" stroke-width="3.1"/>
<line x1="1460.38" y1="662.5" x2="1460.38" y2="807.1" stroke="#0000ff" stroke-width="3.3"/>
<line x1="1453.48" y1="807.1" x2="1467.28" y2="807.1" stroke="#0000ff" stroke-width="3.3" stroke-linecap="round"/>
<rect x="1582.84" y="556.2" width="12.6" height="19.8" fill="none" stroke="#008000" stroke-width="3.1"/>
<line x1="1589.14" y1="556.2" x2="1589.14" y2="279.3" stroke="#008000" stroke-width="3.3"/>
<line x1="1582.24" y1="279.3" x2="1596.04" y2="279.3" stroke="#008000" stroke-width="3.3" stroke-linecap="round"/>
<rect x="1595.84" y="566" width="12.6" height="10" fill="none" stroke="#ff0000" stroke-width="3.1"/>
<line x1="1602.14" y1="566" x2="1602.14" y2="388.3" stroke="#ff0000" stroke-width="3.3"/>
<line x1="1595.24" y1="388.3" x2="1609.04" y2="388.3" stroke="#ff0000" stroke-width="3.3" stroke-linecap="round"/>
<rect x="1609.54" y="576" width="12.6" height="40.1" fill="none" stroke="#0000ff" stroke-width="3.1"/>
<line x1="1615.84" y1="616.1" x2="1615.84" y2="754.2" stroke="#0000ff" stroke-width="3.3"/>
<line x1="1608.94" y1="754.2" x2="1622.74" y2="754.2" stroke="#0000ff" stroke-width="3.3" stroke-linecap="round"/>
<rect x="1738.3" y="576" width="12.6" height="140.9" fill="none" stroke="#008000" stroke-width="3.1"/>
<line x1="1744.6" y1="716.9" x2="1744.6" y2="908.5" stroke="#008000" stroke-width="3.3"/>
<line x1="1737.7" y1="908.5" x2="1751.5" y2="908.5" stroke="#008000" stroke-width="3.3" stroke-linecap="round"/>
<rect x="1751.3" y="552" width="12.6" height="24" fill="none" stroke="#ff0000" stroke-width="3.1"/>
<line x1="1757.6" y1="552" x2="1757.6" y2="324.7" stroke="#ff0000" stroke-width="3.3"/>
<line x1="1750.7" y1="324.7" x2="1764.5" y2="324.7" stroke="#ff0000" stroke-width="3.3" stroke-linecap="round"/>
<rect x="1765" y="497.7" width="12.6" height="78.3" fill="none" stroke="#0000ff" stroke-width="3.1"/>
<line x1="1771.3" y1="497.7" x2="1771.3" y2="373.6" stroke="#0000ff" stroke-width="3.3"/>
<line x1="1764.4" y1="373.6" x2="1778.2" y2="373.6" stroke="#0000ff" stroke-width="3.3" stroke-linecap="round"/>
<text x="213.5" y="1007.6" font-size="34.5" text-anchor="end" fill="#000" transform="rotate(-60 213.5 1007.6)">LGA</text>
<text x="265.32" y="1007.6" font-size="34.5" text-anchor="end" fill="#000" transform="rotate(-60 265.32 1007.6)">LGH</text>
<text x="317.14" y="1007.6" font-size="34.5" text-anchor="end" fill="#000" transform="rotate(-60 317.14 1007.6)">LGT</text>
<text x="368.96" y="1007.6" font-size="34.5" text-anchor="end" fill="#000" transform="rotate(-60 368.96 1007.6)">MRA</text>
<text x="420.78" y="1007.6" font-size="34.5" text-anchor="end" fill="#000" transform="rotate(-60 420.78 1007.6)">MRH</text>
<text x="472.6" y="1007.6" font-size="34.5" text-anchor="end" fill="#000" transform="rotate(-60 472.6 1007.6)">MRT</text>
<text x="524.42" y="1007.6" font-size="34.5" text-anchor="end" fill="#000" transform="rotate(-60 524.42 1007.6)">Other</text>
<text x="628.06" y="1007.6" font-size="34.5" text-anchor="end" fill="#000" transform="rotate(-60 628.06 1007.6)">LGA</text>
<text x="679.88" y="1007.6" font-size="34.5" text-anchor="end" fill="#000" transform="rotate(-60 679.88 1007.6)">LGH</text>
<text x="731.7" y="1007.6" font-size="34.5" text-anchor="end" fill="#000" transform="rotate(-60 731.7 1007.6)">LGT</text>
<text x="783.52" y="1007.6" font-size="34.5" text-anchor="end" fill="#000" transform="rotate(-60 783.52 1007.6)">MRA</text>
<text x="835.34" y="1007.6" font-size="34.5" text-anchor="end" fill="#000" transform="rotate(-60 835.34 1007.6)">MRH</text>
<text x="887.16" y="1007.6" font-size="34.5" text-anchor="end" fill="#000" transform="rotate(-60 887.16 1007.6)">MRT</text>
<text x="938.98" y="1007.6" font-size="34.5" text-anchor="end" fill="#000" transform="rotate(-60 938.98 1007.6)">Other</text>
<text x="1042.62" y="1007.6" font-size="34.5" text-anchor="end" fill="#000" transform="rotate(-60 1042.62 1007.6)">LGA</text>
<text x="1094.44" y="1007.6" font-size="34.5" text-anchor="end" fill="#000" transform="rotate(-60 1094.44 1007.6)">LGH</text>
<text x="1146.26" y="1007.6" font-size="34.5" text-anchor="end" fill="#000" transform="rotate(-60 1146.26 1007.6)">LGT</text>
<text x="1198.08" y="1007.6" font-size="34.5" text-anchor="end" fill="#000" transform="rotate(-60 1198.08 1007.6)">MRA</text>
<text x="1249.9" y="1007.6" font-size="34.5" text-anchor="end" fill="#000" transform="rotate(-60 1249.9 1007.6)">MRH</text>
<text x="1301.72" y="1007.6" font-size="34.5" text-anchor="end" fill="#000" transform="rotate(-60 1301.72 1007.6)">MRT</text>
<text x="1353.54" y="1007.6" font-size="34.5" text-anchor="end" fill="#000" transform="rotate(-60 1353.54 1007.6)">Other</text>
<text x="1457.18" y="1007.6" font-size="34.5" text-anchor="end" fill="#000" transform="rotate(-60 1457.18 1007.6)">LGA</text>
<text x="1509" y="1007.6" font-size="34.5" text-anchor="end" fill="#000" transform="rotate(-60 1509 1007.6)">LGH</text>
<text x="1560.82" y="1007.6" font-size="34.5" text-anchor="end" fill="#000" transform="rotate(-60 1560.82 1007.6)">LGT</text>
<text x="1612.64" y="1007.6" font-size="34.5" text-anchor="end" fill="#000" transform="rotate(-60 1612.64 1007.6)">MRA</text>
<text x="1664.46" y="1007.6" font-size="34.5" text-anchor="end" fill="#000" transform="rotate(-60 1664.46 1007.6)">MRH</text>
<text x="1716.28" y="1007.6" font-size="34.5" text-anchor="end" fill="#000" transform="rotate(-60 1716.28 1007.6)">MRT</text>
<text x="1768.1" y="1007.6" font-size="34.5" text-anchor="end" fill="#000" transform="rotate(-60 1768.1 1007.6)">Other</text>
<text x="204.2" y="44.2" font-size="34.5" text-anchor="start" fill="#000">Northern Acacia</text>
<text x="203.6" y="76.2" font-size="34.5" text-anchor="start" fill="#000">Commiphora Bushland</text>
<text x="607.5" y="46" font-size="34.5" text-anchor="start" fill="#000">Somali Acacia</text>
<text x="607.3" y="78" font-size="34.5" text-anchor="start" fill="#000">Commiphora Bushland</text>
<text x="992.5" y="48.3" font-size="34.5" text-anchor="start" fill="#000">Southern Acacia</text>
<text x="992.2" y="80.6" font-size="34.5" text-anchor="start" fill="#000">Commiphora Bushland</text>
<text x="1500.7" y="52" font-size="34.5" text-anchor="start" fill="#000">Masai Xeric</text>
<text x="1500.7" y="84.6" font-size="34.5" text-anchor="start" fill="#000">Grassland</text>
<text x="967.5" y="1118.6" font-size="34.5" text-anchor="middle" fill="#000">GLPS</text>
<path d="M150 1199.3 V1875.4 H1772.5" fill="none" stroke="#000" stroke-width="2.7"/>
<line x1="150" y1="1200.96" x2="171.5" y2="1200.96" stroke="#000" stroke-width="2.7" stroke-linecap="round"/>
<text x="146" y="1212.86" font-size="34.5" text-anchor="end" fill="#000">0.6</text>
<line x1="150" y1="1245.95" x2="161.5" y2="1245.95" stroke="#000" stroke-width="2.7" stroke-linecap="round"/>
<line x1="150" y1="1290.94" x2="171.5" y2="1290.94" stroke="#000" stroke-width="2.7" stroke-linecap="round"/>
<text x="146" y="1302.84" font-size="34.5" text-anchor="end" fill="#000">0.4</text>
<line x1="150" y1="1335.93" x2="161.5" y2="1335.93" stroke="#000" stroke-width="2.7" stroke-linecap="round"/>
<line x1="150" y1="1380.92" x2="171.5" y2="1380.92" stroke="#000" stroke-width="2.7" stroke-linecap="round"/>
<text x="146" y="1392.82" font-size="34.5" text-anchor="end" fill="#000">0.2</text>
<line x1="150" y1="1425.91" x2="161.5" y2="1425.91" stroke="#000" stroke-width="2.7" stroke-linecap="round"/>
<line x1="150" y1="1470.9" x2="171.5" y2="1470.9" stroke="#000" stroke-width="2.7" stroke-linecap="round"/>
<text x="146" y="1482.8" font-size="34.5" text-anchor="end" fill="#000">0.0</text>
<line x1="150" y1="1515.89" x2="161.5" y2="1515.89" stroke="#000" stroke-width="2.7" stroke-linecap="round"/>
<line x1="150" y1="1560.88" x2="171.5" y2="1560.88" stroke="#000" stroke-width="2.7" stroke-linecap="round"/>
<text x="146" y="1572.78" font-size="34.5" text-anchor="end" fill="#000">-0.2</text>
<line x1="150" y1="1605.87" x2="161.5" y2="1605.87" stroke="#000" stroke-width="2.7" stroke-linecap="round"/>
<line x1="150" y1="1650.86" x2="171.5" y2="1650.86" stroke="#000" stroke-width="2.7" stroke-linecap="round"/>
<text x="146" y="1662.76" font-size="34.5" text-anchor="end" fill="#000">-0.4</text>
<line x1="150" y1="1695.85" x2="161.5" y2="1695.85" stroke="#000" stroke-width="2.7" stroke-linecap="round"/>
<line x1="150" y1="1740.84" x2="171.5" y2="1740.84" stroke="#000" stroke-width="2.7" stroke-linecap="round"/>
<text x="146" y="1752.74" font-size="34.5" text-anchor="end" fill="#000">-0.6</text>
<line x1="150" y1="1785.83" x2="161.5" y2="1785.83" stroke="#000" stroke-width="2.7" stroke-linecap="round"/>
<line x1="150" y1="1830.82" x2="171.5" y2="1830.82" stroke="#000" stroke-width="2.7" stroke-linecap="round"/>
<text x="146" y="1842.72" font-size="34.5" text-anchor="end" fill="#000">-0.8</text>
<line x1="218.7" y1="1875.4" x2="218.7" y2="1853.9" stroke="#000" stroke-width="2.7" stroke-linecap="round"/>
<line x1="287.71" y1="1875.4" x2="287.71" y2="1853.9" stroke="#000" stroke-width="2.7" stroke-linecap="round"/>
<line x1="356.72" y1="1875.4" x2="356.72" y2="1853.9" stroke="#000" stroke-width="2.7" stroke-linecap="round"/>
<line x1="425.73" y1="1875.4" x2="425.73" y2="1853.9" stroke="#000" stroke-width="2.7" stroke-linecap="round"/>
<line x1="494.74" y1="1875.4" x2="494.74" y2="1853.9" stroke="#000" stroke-width="2.7" stroke-linecap="round"/>
<line x1="563.75" y1="1875.4" x2="563.75" y2="1853.9" stroke="#000" stroke-width="2.7" stroke-linecap="round"/>
<line x1="632.76" y1="1875.4" x2="632.76" y2="1853.9" stroke="#000" stroke-width="2.7" stroke-linecap="round"/>
<line x1="701.77" y1="1875.4" x2="701.77" y2="1853.9" stroke="#000" stroke-width="2.7" stroke-linecap="round"/>
<line x1="770.78" y1="1875.4" x2="770.78" y2="1853.9" stroke="#000" stroke-width="2.7" stroke-linecap="round"/>
<line x1="839.79" y1="1875.4" x2="839.79" y2="1853.9" stroke="#000" stroke-width="2.7" stroke-linecap="round"/>
<line x1="908.8" y1="1875.4" x2="908.8" y2="1853.9" stroke="#000" stroke-width="2.7" stroke-linecap="round"/>
<line x1="977.81" y1="1875.4" x2="977.81" y2="1853.9" stroke="#000" stroke-width="2.7" stroke-linecap="round"/>
<line x1="1046.82" y1="1875.4" x2="1046.82" y2="1853.9" stroke="#000" stroke-width="2.7" stroke-linecap="round"/>
<line x1="1115.83" y1="1875.4" x2="1115.83" y2="1853.9" stroke="#000" stroke-width="2.7" stroke-linecap="round"/>
<line x1="1184.84" y1="1875.4" x2="1184.84" y2="1853.9" stroke="#000" stroke-width="2.7" stroke-linecap="round"/>
<line x1="1253.85" y1="1875.4" x2="1253.85" y2="1853.9" stroke="#000" stroke-width="2.7" stroke-linecap="round"/>
<line x1="1322.86" y1="1875.4" x2="1322.86" y2="1853.9" stroke="#000" stroke-width="2.7" stroke-linecap="round"/>
<line x1="1391.87" y1="1875.4" x2="1391.87" y2="1853.9" stroke="#000" stroke-width="2.7" stroke-linecap="round"/>
<line x1="1460.88" y1="1875.4" x2="1460.88" y2="1853.9" stroke="#000" stroke-width="2.7" stroke-linecap="round"/>
<line x1="1529.89" y1="1875.4" x2="1529.89" y2="1853.9" stroke="#000" stroke-width="2.7" stroke-linecap="round"/>
<line x1="1598.9" y1="1875.4" x2="1598.9" y2="1853.9" stroke="#000" stroke-width="2.7" stroke-linecap="round"/>
<line x1="1667.91" y1="1875.4" x2="1667.91" y2="1853.9" stroke="#000" stroke-width="2.7" stroke-linecap="round"/>
<line x1="1736.92" y1="1875.4" x2="1736.92" y2="1853.9" stroke="#000" stroke-width="2.7" stroke-linecap="round"/>
<line x1="150" y1="1470.9" x2="1772.5" y2="1470.9" stroke="#000" stroke-width="2.7"/>
<line x1="218.7" y1="1470.9" x2="218.7" y2="1463.9" stroke="#000" stroke-width="3" stroke-linecap="round"/>
<line x1="287.71" y1="1470.9" x2="287.71" y2="1463.9" stroke="#000" stroke-width="3" stroke-linecap="round"/>
<line x1="356.72" y1="1470.9" x2="356.72" y2="1463.9" stroke="#000" stroke-width="3" stroke-linecap="round"/>
<line x1="425.73" y1="1470.9" x2="425.73" y2="1463.9" stroke="#000" stroke-width="3" stroke-linecap="round"/>
<line x1="494.74" y1="1470.9" x2="494.74" y2="1463.9" stroke="#000" stroke-width="3" stroke-linecap="round"/>
<line x1="563.75" y1="1470.9" x2="563.75" y2="1463.9" stroke="#000" stroke-width="3" stroke-linecap="round"/>
<line x1="632.76" y1="1470.9" x2="632.76" y2="1463.9" stroke="#000" stroke-width="3" stroke-linecap="round"/>
<line x1="701.77" y1="1470.9" x2="701.77" y2="1463.9" stroke="#000" stroke-width="3" stroke-linecap="round"/>
<line x1="770.78" y1="1470.9" x2="770.78" y2="1463.9" stroke="#000" stroke-width="3" stroke-linecap="round"/>
<line x1="839.79" y1="1470.9" x2="839.79" y2="1463.9" stroke="#000" stroke-width="3" stroke-linecap="round"/>
<line x1="908.8" y1="1470.9" x2="908.8" y2="1463.9" stroke="#000" stroke-width="3" stroke-linecap="round"/>
<line x1="977.81" y1="1470.9" x2="977.81" y2="1463.9" stroke="#000" stroke-width="3" stroke-linecap="round"/>
<line x1="1046.82" y1="1470.9" x2="1046.82" y2="1463.9" stroke="#000" stroke-width="3" stroke-linecap="round"/>
<line x1="1115.83" y1="1470.9" x2="1115.83" y2="1463.9" stroke="#000" stroke-width="3" stroke-linecap="round"/>
<line x1="1184.84" y1="1470.9" x2="1184.84" y2="1463.9" stroke="#000" stroke-width="3" stroke-linecap="round"/>
<line x1="1253.85" y1="1470.9" x2="1253.85" y2="1463.9" stroke="#000" stroke-width="3" stroke-linecap="round"/>
<line x1="1322.86" y1="1470.9" x2="1322.86" y2="1463.9" stroke="#000" stroke-width="3" stroke-linecap="round"/>
<line x1="1391.87" y1="1470.9" x2="1391.87" y2="1463.9" stroke="#000" stroke-width="3" stroke-linecap="round"/>
<line x1="1460.88" y1="1470.9" x2="1460.88" y2="1463.9" stroke="#000" stroke-width="3" stroke-linecap="round"/>
<line x1="1529.89" y1="1470.9" x2="1529.89" y2="1463.9" stroke="#000" stroke-width="3" stroke-linecap="round"/>
<line x1="1598.9" y1="1470.9" x2="1598.9" y2="1463.9" stroke="#000" stroke-width="3" stroke-linecap="round"/>
<line x1="1667.91" y1="1470.9" x2="1667.91" y2="1463.9" stroke="#000" stroke-width="3" stroke-linecap="round"/>
<line x1="1736.92" y1="1470.9" x2="1736.92" y2="1463.9" stroke="#000" stroke-width="3" stroke-linecap="round"/>
<rect x="190.05" y="1443.5" width="19.3" height="27.4" fill="none" stroke="#008000" stroke-width="3.1"/>
<line x1="199.7" y1="1443.5" x2="199.7" y2="1372.6" stroke="#008000" stroke-width="3.3"/>
<line x1="192.7" y1="1372.6" x2="206.7" y2="1372.6" stroke="#008000" stroke-width="3.3" stroke-linecap="round"/>
<rect x="209.15" y="1416.3" width="19.3" height="54.6" fill="none" stroke="#0000ff" stroke-width="3.1"/>
<line x1="218.8" y1="1410.3" x2="218.8" y2="1315.1" stroke="#0000ff" stroke-width="3.3" stroke-linecap="round"/>
<line x1="211.8" y1="1315.1" x2="225.8" y2="1315.1" stroke="#0000ff" stroke-width="3.3" stroke-linecap="round"/>
<rect x="229.05" y="1470.9" width="19.3" height="100.5" fill="none" stroke="#ff0000" stroke-width="3.1"/>
<line x1="238.7" y1="1571.4" x2="238.7" y2="1701.4" stroke="#ff0000" stroke-width="3.3"/>
<line x1="231.7" y1="1701.4" x2="245.7" y2="1701.4" stroke="#ff0000" stroke-width="3.3" stroke-linecap="round"/>
<rect x="328.07" y="1440.7" width="19.3" height="30.2" fill="none" stroke="#008000" stroke-width="3.1"/>
<line x1="337.72" y1="1440.7" x2="337.72" y2="1400.5" stroke="#008000" stroke-width="3.3"/>
<line x1="330.72" y1="1400.5" x2="344.72" y2="1400.5" stroke="#008000" stroke-width="3.3" stroke-linecap="round"/>
<rect x="347.17" y="1454.4" width="19.3" height="16.5" fill="none" stroke="#0000ff" stroke-width="3.1"/>
<line x1="356.82" y1="1448.4" x2="356.82" y2="1388" stroke="#0000ff" stroke-width="3.3" stroke-linecap="round"/>
<line x1="349.82" y1="1388" x2="363.82" y2="1388" stroke="#0000ff" stroke-width="3.3" stroke-linecap="round"/>
<rect x="367.07" y="1470.9" width="19.3" height="84.4" fill="none" stroke="#ff0000" stroke-width="3.1"/>
<line x1="376.72" y1="1555.3" x2="376.72" y2="1655.4" stroke="#ff0000" stroke-width="3.3"/>
<line x1="369.72" y1="1655.4" x2="383.72" y2="1655.4" stroke="#ff0000" stroke-width="3.3" stroke-linecap="round"/>
<rect x="397.08" y="1373.1" width="19.3" height="97.8" fill="none" stroke="#008000" stroke-width="3.1"/>
<line x1="406.73" y1="1373.1" x2="406.73" y2="1312.6" stroke="#008000" stroke-width="3.3"/>
<line x1="399.73" y1="1312.6" x2="413.73" y2="1312.6" stroke="#008000" stroke-width="3.3" stroke-linecap="round"/>
<rect x="416.18" y="1376.8" width="19.3" height="94.1" fill="none" stroke="#0000ff" stroke-width="3.1"/>
<line x1="425.83" y1="1370.8" x2="425.83" y2="1278.4" stroke="#0000ff" stroke-width="3.3" stroke-linecap="round"/>
<line x1="418.83" y1="1278.4" x2="432.83" y2="1278.4" stroke="#0000ff" stroke-width="3.3" stroke-linecap="round"/>
<rect x="436.08" y="1470.9" width="19.3" height="236.4" fill="none" stroke="#ff0000" stroke-width="3.1"/>
<line x1="445.73" y1="1707.3" x2="445.73" y2="1834.2" stroke="#ff0000" stroke-width="3.3"/>
<line x1="438.73" y1="1834.2" x2="452.73" y2="1834.2" stroke="#ff0000" stroke-width="3.3" stroke-linecap="round"/>
<rect x="554.2" y="1362.3" width="19.3" height="108.6" fill="none" stroke="#0000ff" stroke-width="3.1"/>
<rect x="574.1" y="1470.9" width="19.3" height="206.2" fill="none" stroke="#ff0000" stroke-width="3.1"/>
<rect x="604.11" y="1465.5" width="19.3" height="5.4" fill="none" stroke="#008000" stroke-width="3.1"/>
<line x1="613.76" y1="1465.5" x2="613.76" y2="1411.5" stroke="#008000" stroke-width="3.3"/>
<line x1="606.76" y1="1411.5" x2="620.76" y2="1411.5" stroke="#008000" stroke-width="3.3" stroke-linecap="round"/>
<rect x="623.21" y="1436.8" width="19.3" height="34.1" fill="none" stroke="#0000ff" stroke-width="3.1"/>
<line x1="632.86" y1="1430.8" x2="632.86" y2="1362.3" stroke="#0000ff" stroke-width="3.3" stroke-linecap="round"/>
<line x1="625.86" y1="1362.3" x2="639.86" y2="1362.3" stroke="#0000ff" stroke-width="3.3" stroke-linecap="round"/>
<rect x="643.11" y="1470.9" width="19.3" height="48.7" fill="none" stroke="#ff0000" stroke-width="3.1"/>
<line x1="652.76" y1="1519.6" x2="652.76" y2="1614.9" stroke="#ff0000" stroke-width="3.3"/>
<line x1="645.76" y1="1614.9" x2="659.76" y2="1614.9" stroke="#ff0000" stroke-width="3.3" stroke-linecap="round"/>
<rect x="742.13" y="1470.9" width="19.3" height="1" fill="none" stroke="#008000" stroke-width="3.1"/>
<line x1="751.78" y1="1471.9" x2="751.78" y2="1535.1" stroke="#008000" stroke-width="3.3"/>
<line x1="744.78" y1="1535.1" x2="758.78" y2="1535.1" stroke="#008000" stroke-width="3.3" stroke-linecap="round"/>
<rect x="761.23" y="1470.9" width="19.3" height="104.6" fill="none" stroke="#0000ff" stroke-width="3.1"/>
<line x1="770.88" y1="1581.5" x2="770.88" y2="1729.4" stroke="#0000ff" stroke-width="3.3" stroke-linecap="round"/>
<line x1="763.88" y1="1729.4" x2="777.88" y2="1729.4" stroke="#0000ff" stroke-width="3.3" stroke-linecap="round"/>
<rect x="781.13" y="1348.5" width="19.3" height="122.4" fill="none" stroke="#ff0000" stroke-width="3.1"/>
<line x1="790.78" y1="1348.5" x2="790.78" y2="1161.3" stroke="#ff0000" stroke-width="3.3"/>
<line x1="783.78" y1="1161.3" x2="797.78" y2="1161.3" stroke="#ff0000" stroke-width="3.3" stroke-linecap="round"/>
<rect x="949.16" y="1454.1" width="19.3" height="16.8" fill="none" stroke="#008000" stroke-width="3.1"/>
<line x1="958.81" y1="1454.1" x2="958.81" y2="1370.6" stroke="#008000" stroke-width="3.3"/>
<line x1="951.81" y1="1370.6" x2="965.81" y2="1370.6" stroke="#008000" stroke-width="3.3" stroke-linecap="round"/>
<rect x="968.26" y="1470.9" width="19.3" height="89.2" fill="none" stroke="#0000ff" stroke-width="3.1"/>
<line x1="977.91" y1="1566.1" x2="977.91" y2="1695.7" stroke="#0000ff" stroke-width="3.3" stroke-linecap="round"/>
<line x1="970.91" y1="1695.7" x2="984.91" y2="1695.7" stroke="#0000ff" stroke-width="3.3" stroke-linecap="round"/>
<rect x="988.16" y="1392.7" width="19.3" height="78.2" fill="none" stroke="#ff0000" stroke-width="3.1"/>
<line x1="997.81" y1="1392.7" x2="997.81" y2="1235.1" stroke="#ff0000" stroke-width="3.3"/>
<line x1="990.81" y1="1235.1" x2="1004.81" y2="1235.1" stroke="#ff0000" stroke-width="3.3" stroke-linecap="round"/>
<rect x="1156.19" y="1458.7" width="19.3" height="12.2" fill="none" stroke="#008000" stroke-width="3.1"/>
<line x1="1165.84" y1="1458.7" x2="1165.84" y2="1409.3" stroke="#008000" stroke-width="3.3"/>
<line x1="1158.84" y1="1409.3" x2="1172.84" y2="1409.3" stroke="#008000" stroke-width="3.3" stroke-linecap="round"/>
<rect x="1175.29" y="1470.9" width="19.3" height="23.4" fill="none" stroke="#0000ff" stroke-width="3.1"/>
<line x1="1184.94" y1="1500.3" x2="1184.94" y2="1604.7" stroke="#0000ff" stroke-width="3.3" stroke-linecap="round"/>
<line x1="1177.94" y1="1604.7" x2="1191.94" y2="1604.7" stroke="#0000ff" stroke-width="3.3" stroke-linecap="round"/>
<rect x="1195.19" y="1454.7" width="19.3" height="16.2" fill="none" stroke="#ff0000" stroke-width="3.1"/>
<line x1="1204.84" y1="1454.7" x2="1204.84" y2="1321.5" stroke="#ff0000" stroke-width="3.3"/>
<line x1="1197.84" y1="1321.5" x2="1211.84" y2="1321.5" stroke="#ff0000" stroke-width="3.3" stroke-linecap="round"/>
<rect x="1294.21" y="1311.3" width="19.3" height="159.6" fill="none" stroke="#008000" stroke-width="3.1"/>
<line x1="1303.86" y1="1311.3" x2="1303.86" y2="1245.3" stroke="#008000" stroke-width="3.3"/>
<line x1="1296.86" y1="1245.3" x2="1310.86" y2="1245.3" stroke="#008000" stroke-width="3.3" stroke-linecap="round"/>
<rect x="1313.31" y="1470.9" width="19.3" height="82.3" fill="none" stroke="#0000ff" stroke-width="3.1"/>
<line x1="1322.96" y1="1559.2" x2="1322.96" y2="1618.6" stroke="#0000ff" stroke-width="3.3" stroke-linecap="round"/>
<line x1="1315.96" y1="1618.6" x2="1329.96" y2="1618.6" stroke="#0000ff" stroke-width="3.3" stroke-linecap="round"/>
<rect x="1333.21" y="1470.9" width="19.3" height="70.1" fill="none" stroke="#ff0000" stroke-width="3.1"/>
<line x1="1342.86" y1="1541" x2="1342.86" y2="1599.5" stroke="#ff0000" stroke-width="3.3"/>
<line x1="1335.86" y1="1599.5" x2="1349.86" y2="1599.5" stroke="#ff0000" stroke-width="3.3" stroke-linecap="round"/>
<rect x="1363.22" y="1408.7" width="19.3" height="62.2" fill="none" stroke="#008000" stroke-width="3.1"/>
<line x1="1372.87" y1="1408.7" x2="1372.87" y2="1307.6" stroke="#008000" stroke-width="3.3"/>
<line x1="1365.87" y1="1307.6" x2="1379.87" y2="1307.6" stroke="#008000" stroke-width="3.3" stroke-linecap="round"/>
<rect x="1382.32" y="1470.9" width="19.3" height="23.8" fill="none" stroke="#0000ff" stroke-width="3.1"/>
<line x1="1391.97" y1="1500.7" x2="1391.97" y2="1585.5" stroke="#0000ff" stroke-width="3.3" stroke-linecap="round"/>
<line x1="1384.97" y1="1585.5" x2="1398.97" y2="1585.5" stroke="#0000ff" stroke-width="3.3" stroke-linecap="round"/>
<rect x="1402.22" y="1470.9" width="19.3" height="32.9" fill="none" stroke="#ff0000" stroke-width="3.1"/>
<line x1="1411.87" y1="1503.8" x2="1411.87" y2="1554.1" stroke="#ff0000" stroke-width="3.3"/>
<line x1="1404.87" y1="1554.1" x2="1418.87" y2="1554.1" stroke="#ff0000" stroke-width="3.3" stroke-linecap="round"/>
<rect x="1501.24" y="1356.8" width="19.3" height="114.1" fill="none" stroke="#008000" stroke-width="3.1"/>
<line x1="1510.89" y1="1356.8" x2="1510.89" y2="1290" stroke="#008000" stroke-width="3.3"/>
<line x1="1503.89" y1="1290" x2="1517.89" y2="1290" stroke="#008000" stroke-width="3.3" stroke-linecap="round"/>
<rect x="1520.34" y="1470.9" width="19.3" height="16.9" fill="none" stroke="#0000ff" stroke-width="3.1"/>
<line x1="1529.99" y1="1493.8" x2="1529.99" y2="1534" stroke="#0000ff" stroke-width="3.3" stroke-linecap="round"/>
<line x1="1522.99" y1="1534" x2="1536.99" y2="1534" stroke="#0000ff" stroke-width="3.3" stroke-linecap="round"/>
<rect x="1540.24" y="1470.9" width="19.3" height="29.6" fill="none" stroke="#ff0000" stroke-width="3.1"/>
<line x1="1549.89" y1="1500.5" x2="1549.89" y2="1540.5" stroke="#ff0000" stroke-width="3.3"/>
<line x1="1542.89" y1="1540.5" x2="1556.89" y2="1540.5" stroke="#ff0000" stroke-width="3.3" stroke-linecap="round"/>
<rect x="1570.25" y="1420.5" width="19.3" height="50.4" fill="none" stroke="#008000" stroke-width="3.1"/>
<line x1="1579.9" y1="1420.5" x2="1579.9" y2="1328.8" stroke="#008000" stroke-width="3.3"/>
<line x1="1572.9" y1="1328.8" x2="1586.9" y2="1328.8" stroke="#008000" stroke-width="3.3" stroke-linecap="round"/>
<rect x="1589.35" y="1470.9" width="19.3" height="17.3" fill="none" stroke="#0000ff" stroke-width="3.1"/>
<line x1="1599" y1="1494.2" x2="1599" y2="1557.2" stroke="#0000ff" stroke-width="3.3" stroke-linecap="round"/>
<line x1="1592" y1="1557.2" x2="1606" y2="1557.2" stroke="#0000ff" stroke-width="3.3" stroke-linecap="round"/>
<rect x="1609.25" y="1470.9" width="19.3" height="15.6" fill="none" stroke="#ff0000" stroke-width="3.1"/>
<line x1="1618.9" y1="1486.5" x2="1618.9" y2="1526.5" stroke="#ff0000" stroke-width="3.3"/>
<line x1="1611.9" y1="1526.5" x2="1625.9" y2="1526.5" stroke="#ff0000" stroke-width="3.3" stroke-linecap="round"/>
<rect x="1708.27" y="1441" width="19.3" height="29.9" fill="none" stroke="#008000" stroke-width="3.1"/>
<line x1="1717.92" y1="1441" x2="1717.92" y2="1332.2" stroke="#008000" stroke-width="3.3"/>
<line x1="1710.92" y1="1332.2" x2="1724.92" y2="1332.2" stroke="#008000" stroke-width="3.3" stroke-linecap="round"/>
<rect x="1727.37" y="1470.9" width="19.3" height="17.3" fill="none" stroke="#0000ff" stroke-width="3.1"/>
<line x1="1737.02" y1="1494.2" x2="1737.02" y2="1588.7" stroke="#0000ff" stroke-width="3.3" stroke-linecap="round"/>
<line x1="1730.02" y1="1588.7" x2="1744.02" y2="1588.7" stroke="#0000ff" stroke-width="3.3" stroke-linecap="round"/>
<rect x="1747.27" y="1470.9" width="19.3" height="10.5" fill="none" stroke="#ff0000" stroke-width="3.1"/>
<line x1="1756.92" y1="1481.4" x2="1756.92" y2="1518.1" stroke="#ff0000" stroke-width="3.3"/>
<line x1="1749.92" y1="1518.1" x2="1763.92" y2="1518.1" stroke="#ff0000" stroke-width="3.3" stroke-linecap="round"/>
<text x="225" y="1916.3" font-size="34.5" text-anchor="end" fill="#000" transform="rotate(-30 225 1916.3)">LGA</text>
<text x="294.01" y="1916.3" font-size="34.5" text-anchor="end" fill="#000" transform="rotate(-30 294.01 1916.3)">LGH</text>
<text x="363.02" y="1916.3" font-size="34.5" text-anchor="end" fill="#000" transform="rotate(-30 363.02 1916.3)">LGT</text>
<text x="432.03" y="1916.3" font-size="34.5" text-anchor="end" fill="#000" transform="rotate(-30 432.03 1916.3)">MRA</text>
<text x="501.04" y="1916.3" font-size="34.5" text-anchor="end" fill="#000" transform="rotate(-30 501.04 1916.3)">MRH</text>
<text x="570.05" y="1916.3" font-size="34.5" text-anchor="end" fill="#000" transform="rotate(-30 570.05 1916.3)">MRT</text>
<text x="639.06" y="1916.3" font-size="34.5" text-anchor="end" fill="#000" transform="rotate(-30 639.06 1916.3)">Other</text>
<text x="777.08" y="1916.3" font-size="34.5" text-anchor="end" fill="#000" transform="rotate(-30 777.08 1916.3)">LGA</text>
<text x="846.09" y="1916.3" font-size="34.5" text-anchor="end" fill="#000" transform="rotate(-30 846.09 1916.3)">LGH</text>
<text x="915.1" y="1916.3" font-size="34.5" text-anchor="end" fill="#000" transform="rotate(-30 915.1 1916.3)">LGT</text>
<text x="984.11" y="1916.3" font-size="34.5" text-anchor="end" fill="#000" transform="rotate(-30 984.11 1916.3)">MRA</text>
<text x="1053.12" y="1916.3" font-size="34.5" text-anchor="end" fill="#000" transform="rotate(-30 1053.12 1916.3)">MRH</text>
<text x="1122.13" y="1916.3" font-size="34.5" text-anchor="end" fill="#000" transform="rotate(-30 1122.13 1916.3)">MRT</text>
<text x="1191.14" y="1916.3" font-size="34.5" text-anchor="end" fill="#000" transform="rotate(-30 1191.14 1916.3)">Other</text>
<text x="1329.16" y="1916.3" font-size="34.5" text-anchor="end" fill="#000" transform="rotate(-30 1329.16 1916.3)">LGA</text>
<text x="1398.17" y="1916.3" font-size="34.5" text-anchor="end" fill="#000" transform="rotate(-30 1398.17 1916.3)">LGH</text>
<text x="1467.18" y="1916.3" font-size="34.5" text-anchor="end" fill="#000" transform="rotate(-30 1467.18 1916.3)">LGT</text>
<text x="1536.19" y="1916.3" font-size="34.5" text-anchor="end" fill="#000" transform="rotate(-30 1536.19 1916.3)">MRA</text>
<text x="1605.2" y="1916.3" font-size="34.5" text-anchor="end" fill="#000" transform="rotate(-30 1605.2 1916.3)">MRH</text>
<text x="1674.21" y="1916.3" font-size="34.5" text-anchor="end" fill="#000" transform="rotate(-30 1674.21 1916.3)">MRT</text>
<text x="1743.22" y="1916.3" font-size="34.5" text-anchor="end" fill="#000" transform="rotate(-30 1743.22 1916.3)">Other</text>
<text x="342" y="1219" font-size="34.5" text-anchor="start" fill="#000">Chihuahuan</text>
<text x="342" y="1251.6" font-size="34.5" text-anchor="start" fill="#000">Desert</text>
<text x="857.2" y="1223.1" font-size="34.5" text-anchor="start" fill="#000">Mitchell Grass</text>
<text x="857.2" y="1255.1" font-size="34.5" text-anchor="start" fill="#000">Downs</text>
<text x="1441.8" y="1233" font-size="34.5" text-anchor="start" fill="#000">Llanos</text>
<text x="960.7" y="1989.5" font-size="34.5" text-anchor="middle" fill="#000">GLPS</text>
<text x="0" y="0" font-size="34.2" transform="translate(57.4 655.9) rotate(-90)">Trend (% VFC yr<tspan dx="0.4" dy="-23.8">-1</tspan><tspan dx="1.2" dy="23.8">)</tspan></text>
<text x="0" y="0" font-size="34.2" transform="translate(56.6 1685.5) rotate(-90)">Trend (% VFC yr<tspan dx="-0.8" dy="-23.8">-1</tspan><tspan dx="0.8" dy="23.8">)</tspan></text>
<text x="0" y="0" font-size="100" style="font-family:'DejaVu Sans', sans-serif" transform="translate(19.68 63.17) scale(0.47 0.51)">a</text>
<text x="0" y="0" font-size="100" transform="translate(51.5 61.7) scale(0.47 0.56)">)</text>
<text x="0" y="0" font-size="100" transform="translate(17 1221.8) scale(0.58 0.57)">b</text>
<text x="0" y="0" font-size="100" transform="translate(51.5 1220.2) scale(0.47 0.56)">)</text>
<line x1="1548.2" y1="810.2" x2="1583.2" y2="810.2" stroke="#008000" stroke-width="1.1" stroke-opacity="0.35"/>
<line x1="1565.7" y1="810.2" x2="1565.7" y2="826.6" stroke="#008000" stroke-width="1.1" stroke-opacity="0.35"/>
<rect x="1543.2" y="815.2" width="45" height="21.6" fill="none" stroke="#008000" stroke-width="3.2"/>
<text x="1623.6" y="835.8" font-size="35" text-anchor="start" fill="#008000">PV</text>
<line x1="1548.2" y1="855.5" x2="1583.2" y2="855.5" stroke="#0000ff" stroke-width="1.1" stroke-opacity="0.35"/>
<line x1="1565.7" y1="855.5" x2="1565.7" y2="871.9" stroke="#0000ff" stroke-width="1.1" stroke-opacity="0.35"/>
<rect x="1543.2" y="860.5" width="45" height="21.6" fill="none" stroke="#0000ff" stroke-width="3.2"/>
<text x="1623.6" y="882" font-size="35" text-anchor="start" fill="#0000ff">NPV</text>
<line x1="1548.2" y1="901.9" x2="1583.2" y2="901.9" stroke="#ff0000" stroke-width="1.1" stroke-opacity="0.35"/>
<line x1="1565.7" y1="901.9" x2="1565.7" y2="918.3" stroke="#ff0000" stroke-width="1.1" stroke-opacity="0.35"/>
<rect x="1543.2" y="906.9" width="45" height="21.6" fill="none" stroke="#ff0000" stroke-width="3.2"/>
<text x="1623.6" y="926.9" font-size="35" text-anchor="start" fill="#ff0000">BS</text>
<line x1="1597.85" y1="1709.4" x2="1632.85" y2="1709.4" stroke="#008000" stroke-width="1.1" stroke-opacity="0.35"/>
<line x1="1615.35" y1="1709.4" x2="1615.35" y2="1725.8" stroke="#008000" stroke-width="1.1" stroke-opacity="0.35"/>
<rect x="1592.2" y="1714.4" width="46.3" height="23.5" fill="none" stroke="#008000" stroke-width="3.2"/>
<text x="1673.6" y="1736.7" font-size="35" text-anchor="start" fill="#008000">PV</text>
<line x1="1597.85" y1="1755.6" x2="1632.85" y2="1755.6" stroke="#0000ff" stroke-width="1.1" stroke-opacity="0.35"/>
<line x1="1615.35" y1="1755.6" x2="1615.35" y2="1772" stroke="#0000ff" stroke-width="1.1" stroke-opacity="0.35"/>
<rect x="1592.2" y="1760.6" width="46.3" height="22.9" fill="none" stroke="#0000ff" stroke-width="3.2"/>
<text x="1673.6" y="1782.1" font-size="35" text-anchor="start" fill="#0000ff">NPV</text>
<line x1="1597.85" y1="1801.7" x2="1632.85" y2="1801.7" stroke="#ff0000" stroke-width="1.1" stroke-opacity="0.35"/>
<line x1="1615.35" y1="1801.7" x2="1615.35" y2="1818.1" stroke="#ff0000" stroke-width="1.1" stroke-opacity="0.35"/>
<rect x="1592.2" y="1806.7" width="46.3" height="22.1" fill="none" stroke="#ff0000" stroke-width="3.2"/>
<text x="1673.6" y="1828.2" font-size="35" text-anchor="start" fill="#ff0000">BS</text>
<rect x="0" y="1999.8" width="1798" height="2.6" fill="#f5f5f5"/>
</svg></body></html>
